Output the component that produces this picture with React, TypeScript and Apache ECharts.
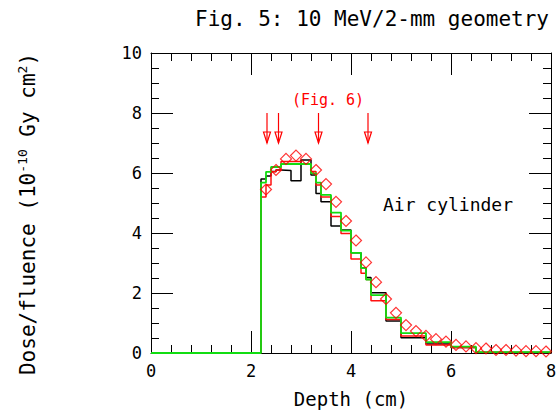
import React, { useEffect, useRef } from "react";
import * as echarts from "echarts";

// Histogram bin edges (cm) shared by the three dose histograms
const binEdges = [0, 2.2, 2.3, 2.4, 2.5, 2.6, 2.8, 3.0, 3.2, 3.3, 3.4, 3.6, 3.8, 4.0, 4.2, 4.3, 4.4, 4.7, 5.0, 5.5, 6.0, 6.5, 8.0];
const blackDose = [0, 5.8, 5.9, 6.05, 6.1, 6.08, 5.74, 6.43, 5.93, 5.32, 5.04, 4.23, 4.1, 3.34, 2.83, 2.52, 2.01, 1.07, 0.51, 0.3, 0.18, 0.02];
const redDose = [0, 5.2, 5.6, 6.04, 6.1, 6.38, 6.38, 6.3, 6.05, 5.6, 5.2, 4.55, 3.98, 3.13, 2.66, 2.45, 1.74, 1.12, 0.57, 0.27, 0.18, 0.02];
const greenDose = [0, 5.68, 6.04, 6.2, 6.2, 6.3, 6.3, 6.3, 5.99, 5.68, 5.27, 4.68, 4.08, 3.34, 2.83, 2.45, 1.93, 1.18, 0.66, 0.36, 0.21, 0.03];

// Red diamond points
const diamondDepth = [2.3, 2.5, 2.7, 2.9, 3.1, 3.3, 3.5, 3.7, 3.9, 4.1, 4.3, 4.5, 4.7, 4.9, 5.1, 5.3, 5.5, 5.7, 5.9, 6.1, 6.3, 6.5, 6.7, 6.9, 7.1, 7.3, 7.5, 7.7, 7.9];
const diamondDose = [5.45, 6.1, 6.47, 6.58, 6.47, 6.1, 5.63, 5.04, 4.4, 3.75, 3.02, 2.36, 1.8, 1.34, 0.93, 0.73, 0.57, 0.46, 0.38, 0.27, 0.22, 0.16, 0.15, 0.1, 0.1, 0.08, 0.06, 0.06, 0.05];

// Arrows pointing to Fig. 6 depths
const arrowDepth = [2.32, 2.55, 3.35, 4.34];
const arrowTop = 8;
const arrowTip = 7;

const xTicks = [0, 2, 4, 6, 8];
const yTicks = [0, 2, 4, 6, 8, 10];

const FONT = "DejaVu Sans Mono";

function toSteps(vals: number[]) {
  const pts: number[][] = [];
  vals.forEach((v, i) => {
    pts.push([binEdges[i], v]);
    pts.push([binEdges[i + 1], v]);
  });
  return pts;
}

export default function App() {
  const ref = useRef<HTMLDivElement>(null);
  useEffect(() => {
    if (!ref.current) return;
    const chart = echarts.init(ref.current, null, { renderer: "svg" });
    const axisCommon = {
      type: "value" as const,
      axisLine: { show: true, onZero: false, lineStyle: { color: "#000", width: 1 } },
      axisTick: { show: true, inside: true, length: 22, lineStyle: { color: "#000", width: 1 } },
      splitLine: { show: false },
      minorSplitLine: { show: false },
    };
    const option: any = {
      animation: false,
      backgroundColor: "#fff",
      title: {
        text: "Fig. 5: 10 MeV/2-mm geometry",
        left: 372,
        top: 8,
        padding: 0,
        textAlign: "center",
        textStyle: { fontFamily: FONT, fontSize: 21, fontWeight: "normal", color: "#000" },
      },
      grid: { left: 151, right: 9, top: 53, bottom: 62, containLabel: false },
      xAxis: [
        {
          ...axisCommon,
          min: xTicks[0],
          max: xTicks[xTicks.length - 1],
          interval: 2,
          position: "bottom",
          minorTick: { show: true, splitNumber: 5, length: 8, lineStyle: { color: "#000", width: 1 } },
          axisLabel: { show: true, fontFamily: FONT, fontSize: 17, color: "#000", margin: 9 },
          name: "Depth (cm)",
          nameLocation: "middle",
          nameGap: 36,
          nameTextStyle: { fontFamily: FONT, fontSize: 19, color: "#000" },
        },
        {
          ...axisCommon,
          min: xTicks[0],
          max: xTicks[xTicks.length - 1],
          interval: 2,
          position: "top",
          minorTick: { show: true, splitNumber: 5, length: 8, lineStyle: { color: "#000", width: 1 } },
          axisLabel: { show: false },
        },
      ],
      yAxis: [
        {
          ...axisCommon,
          min: yTicks[0],
          max: yTicks[yTicks.length - 1],
          interval: 2,
          position: "left",
          minorTick: { show: true, splitNumber: 4, length: 8, lineStyle: { color: "#000", width: 1 } },
          axisLabel: { show: true, fontFamily: FONT, fontSize: 17, color: "#000", margin: 9 },
        },
        {
          ...axisCommon,
          min: yTicks[0],
          max: yTicks[yTicks.length - 1],
          interval: 2,
          position: "right",
          minorTick: { show: true, splitNumber: 4, length: 8, lineStyle: { color: "#000", width: 1 } },
          axisLabel: { show: false },
        },
      ],
      graphic: [
        {
          type: "text",
          x: 28,
          y: 214,
          rotation: Math.PI / 2,
          style: {
            text: "Dose/fluence (10{sup|-10} Gy cm{sup|2})",
            font: `21px '${FONT}'`,
            fill: "#000",
            align: "center",
            verticalAlign: "middle",
            rich: {
              sup: { fontFamily: FONT, fontSize: 13, verticalAlign: "top", padding: [0, 0, 11, 0], fill: "#000" },
            },
          },
        },
        {
          type: "text",
          x: 448,
          y: 204,
          style: { text: "Air cylinder", font: `18px '${FONT}'`, fill: "#000", align: "center", verticalAlign: "middle" },
        },
        {
          type: "text",
          x: 328,
          y: 100,
          style: { text: "(Fig. 6)", font: `15px '${FONT}'`, fill: "#ff0000", align: "center", verticalAlign: "middle" },
        },
      ],
      series: [
        {
          type: "line",
          data: toSteps(blackDose),
          showSymbol: false,
          symbol: "none",
          lineStyle: { color: "#000", width: 1.5 },
          z: 3,
        },
        {
          type: "line",
          data: toSteps(redDose),
          showSymbol: false,
          symbol: "none",
          lineStyle: { color: "#ff1010", width: 1.5 },
          z: 4,
        },
        {
          type: "line",
          data: toSteps(greenDose),
          showSymbol: false,
          symbol: "none",
          lineStyle: { color: "#11dd11", width: 1.8 },
          z: 5,
        },
        {
          type: "scatter",
          data: diamondDepth.map((d, i) => [d, diamondDose[i]]),
          symbol: "diamond",
          symbolSize: [11, 11],
          itemStyle: { color: "rgba(0,0,0,0)", borderColor: "#ff0000", borderWidth: 1.2 },
          z: 6,
        },
        {
          type: "custom",
          data: arrowDepth.map((d) => [d, arrowTop, arrowTip]),
          renderItem: (_params: any, api: any) => {
            const x = api.value(0);
            const top = api.coord([x, api.value(1)]);
            const tip = api.coord([x, api.value(2)]);
            const headH = 11;
            const headW = 3.5;
            return {
              type: "group",
              children: [
                {
                  type: "line",
                  shape: { x1: top[0], y1: top[1], x2: tip[0], y2: tip[1] },
                  style: { stroke: "#ff0000", lineWidth: 1.2 },
                },
                {
                  type: "polygon",
                  shape: {
                    points: [
                      [tip[0] - headW, tip[1] - headH],
                      [tip[0] + headW, tip[1] - headH],
                      [tip[0], tip[1]],
                    ],
                  },
                  style: { stroke: "#ff0000", fill: "none", lineWidth: 1.2 },
                },
              ],
            };
          },
          z: 7,
        },
      ],
    };
    chart.setOption(option);
    return () => chart.dispose();
  }, []);
  return <div ref={ref} style={{ position: "fixed", left: 0, top: 0, width: 560, height: 415 }} />;
}
